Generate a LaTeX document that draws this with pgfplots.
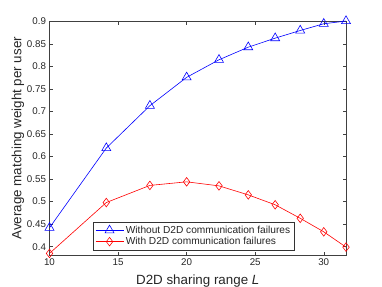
\documentclass[border=0pt]{standalone}
\usepackage{fontspec}
\setmainfont{Liberation Sans}
\usepackage{pgfplots}
\pgfplotsset{compat=1.18}
\begin{document}
\begin{tikzpicture}
\path[use as bounding box] (-49.5bp,-32bp) rectangle (332.5bp,255bp);
\begin{axis}[
  scale only axis,
  width=296.5bp, height=233.5bp,
  xmin=10, xmax=31.6228,
  ymin=0.3815, ymax=0.9,
  clip=false,
  xtick={10,15,20,25,30},
  ytick={0.4,0.45,0.5,0.55,0.6,0.65,0.7,0.75,0.8,0.85,0.9},
  yticklabel style={/pgf/number format/fixed,/pgf/number format/precision=2},
  /pgf/number format/assume math mode=true,
  tick label style={font=\fontsize{9.8}{11}\selectfont, text=black!85},
  tick align=inside,
  major tick length=3.5bp,
  axis line style={black!75, line width=0.6pt},
  every tick/.style={black!75, line width=0.5pt},
  xlabel={D2D sharing range \textit{L}},
  ylabel={Average matching weight per user},
  label style={font=\fontsize{13.4}{15}\selectfont, text=black!85},
  xlabel style={yshift=-2.5pt},
  ylabel style={yshift=-4pt},
  legend style={font=\fontsize{10.2}{12}\selectfont, at={(0.826,0.02)}, anchor=south east,
    draw=black!80, line width=0.5pt, inner sep=2pt, row sep=-1.5pt,
    text=black!85},
  legend cell align=left,
  legend image code/.code={\draw[mark repeat=2,mark phase=2] plot coordinates {(0bp,0bp) (14bp,0bp) (28bp,0bp)};},
]
\addplot[blue, line width=0.6pt, mark=triangle, mark size=5.2bp, mark options={line width=0.6pt}] coordinates {
(10,0.442) (14.1421,0.619) (17.3205,0.713) (20,0.776) (22.3607,0.815)
(24.4949,0.843) (26.4575,0.863) (28.2843,0.880) (30,0.895) (31.6228,0.901)};
\addlegendentry{Without D2D communication failures}
\addplot[red, line width=0.6pt, mark=diamond, mark size=4.3bp, mark options={line width=0.6pt}] coordinates {
(10,0.385) (14.1421,0.498) (17.3205,0.536) (20,0.544) (22.3607,0.535)
(24.4949,0.515) (26.4575,0.493) (28.2843,0.463) (30,0.433) (31.6228,0.399)};
\addlegendentry{With D2D communication failures}
\end{axis}
\end{tikzpicture}
\end{document}
